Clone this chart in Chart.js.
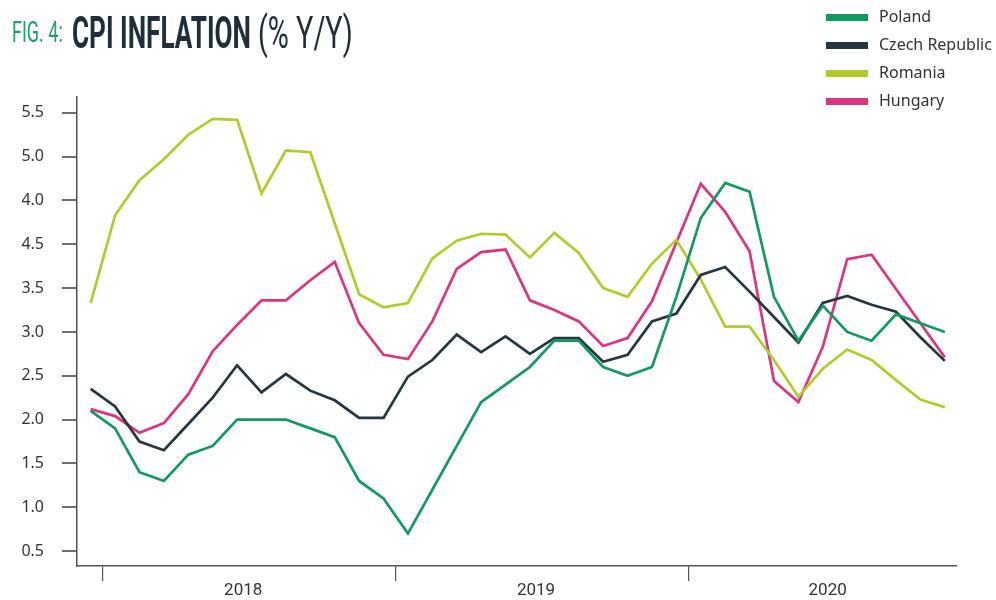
<!DOCTYPE html>
<html><head><meta charset="utf-8">
<script src="https://cdn.jsdelivr.net/npm/chart.js@4.4.1/dist/chart.umd.min.js"></script>
<style>
html,body{margin:0;padding:0;background:#fff;}
#wrap{position:relative;width:996px;height:600px;overflow:hidden;background:#fff;}
canvas{position:absolute;left:0;top:0;}
.tt{position:absolute;white-space:nowrap;font-family:'Liberation Sans Narrow','Roboto',sans-serif;color:#1f2e38;transform-origin:0 0;line-height:1;}
#tFig{left:12px;top:17px;color:#1f9e68;font-size:30px;font-weight:400;transform:scaleX(0.6);}
#tMain{left:72px;top:10px;font-size:45px;font-weight:700;transform:scaleX(0.58);}
#tUnit{left:258px;top:10px;font-size:45px;font-weight:400;transform:scaleX(0.64);}
#legend{position:absolute;left:826px;top:4px;font-family:'Noto Sans',sans-serif;font-size:16px;color:#333;}
#legend .row{position:relative;height:28px;}
#legend .sw{position:absolute;left:0;top:10px;width:42px;height:7px;}
#legend .tx{position:absolute;left:53px;top:1px;white-space:nowrap;}
</style></head>
<body>
<div id="wrap">
<canvas id="c" width="996" height="600"></canvas>
<span class="tt" id="tFig">FIG. 4:</span><span class="tt" id="tMain">CPI INFLATION</span><span class="tt" id="tUnit">(% Y/Y)</span>
<div id="legend"></div>
</div>
<script>
const months = ['2017-12','2018-01','2018-02','2018-03','2018-04','2018-05','2018-06','2018-07','2018-08','2018-09','2018-10','2018-11','2018-12',
'2019-01','2019-02','2019-03','2019-04','2019-05','2019-06','2019-07','2019-08','2019-09','2019-10','2019-11','2019-12',
'2020-01','2020-02','2020-03','2020-04','2020-05','2020-06','2020-07','2020-08','2020-09','2020-10','2020-11'];
const poland  = [2.1,1.9,1.4,1.3,1.6,1.7,2.0,2.0,2.0,1.9,1.8,1.3,1.1,0.7,1.2,1.7,2.2,2.4,2.6,2.9,2.9,2.6,2.5,2.6,3.4,4.3,4.7,4.6,3.4,2.9,3.3,3.0,2.9,3.2,3.1,3.0];
const czech   = [2.35,2.15,1.75,1.65,1.95,2.25,2.62,2.31,2.52,2.33,2.22,2.02,2.02,2.49,2.68,2.97,2.77,2.95,2.75,2.93,2.93,2.66,2.74,3.12,3.21,3.65,3.74,3.46,3.17,2.88,3.33,3.41,3.31,3.23,2.94,2.67];
const romania = [3.33,4.33,4.73,4.97,5.25,5.43,5.42,4.58,5.07,5.05,4.24,3.43,3.28,3.33,3.84,4.04,4.12,4.11,3.85,4.13,3.9,3.5,3.4,3.78,4.05,3.6,3.06,3.06,2.68,2.26,2.58,2.8,2.68,2.45,2.23,2.14];
const hungary = [2.12,2.04,1.85,1.96,2.29,2.78,3.08,3.36,3.36,3.59,3.8,3.1,2.74,2.69,3.12,3.72,3.91,3.94,3.36,3.25,3.12,2.84,2.93,3.35,4.02,4.69,4.37,3.92,2.44,2.2,2.83,3.83,3.88,3.49,3.1,2.71];
const seriesNames = ['Poland','Czech Republic','Romania','Hungary'];
const years = ['2018','2019','2020'];
const yTickLabels = ['0.5','1.0','1.5','2.0','2.5','3.0','3.5','4.5','4.0','5.0','5.5'];

const colors = ['#11995f','#263640','#b3cb2a','#dc3580'];
const yearBoundaries = [0.5, 12.5, 24.5];
const yearLabelPos = [6.25, 18.25, 30.2];

const toXY = arr => arr.map((v,i)=>({x:i,y:v}));
const allSeries = [poland, czech, romania, hungary];

const chart = new Chart(document.getElementById('c'), {
  type:'line',
  data:{
    labels: months,
    datasets: allSeries.map((s,k)=>({
      label: seriesNames[k], data: toXY(s), borderColor: colors[k], backgroundColor: colors[k],
      borderWidth: 2.7, pointRadius: 0, tension: 0, fill:false
    }))
  },
  options:{
    responsive:false, animation:false, devicePixelRatio:1,
    layout:{padding:{top:97,right:39,left:0,bottom:0}},
    plugins:{legend:{display:false}, tooltip:{enabled:false}},
    scales:{
      x:{
        type:'linear', min:-0.56, max:35.5,
        afterBuildTicks: s => { s.ticks = yearBoundaries.concat(yearLabelPos).sort((a,b)=>a-b).map(v=>({value:v})); },
        afterFit: s => { s.height = 34; },
        ticks:{autoSkip:false, maxRotation:0, padding:0, color:'#333',
          font:{family:"'Liberation Sans Narrow','Roboto',sans-serif", size:17},
          callback: v => { const j = yearLabelPos.indexOf(v); return j>=0 ? years[j] : ''; }},
        grid:{drawOnChartArea:false, drawTicks:true, tickLength:15, lineWidth:1.2,
          color: ctx => (ctx.tick && yearBoundaries.indexOf(ctx.tick.value)>=0) ? '#555' : 'rgba(0,0,0,0)'},
        border:{color:'#555', width:1.5}
      },
      y:{
        type:'linear', min:0.33, max:5.68,
        afterBuildTicks: s => { s.ticks = yTickLabels.map((_,i)=>({value:0.5+0.5*i})); },
        afterFit: s => { s.width = 77; },
        ticks:{padding:18, color:'#333', font:{family:"'Noto Sans',sans-serif", size:16},
          callback: (v,i) => yTickLabels[i]},
        grid:{drawOnChartArea:false, drawTicks:true, tickLength:15, lineWidth:2, color:'#6e6e6e'},
        border:{color:'#555', width:1.5}
      }
    }
  }
});

const lg = document.getElementById('legend');
chart.data.datasets.forEach(ds=>{
  const r = document.createElement('div'); r.className='row';
  const sw = document.createElement('div'); sw.className='sw'; sw.style.background = ds.borderColor;
  const tx = document.createElement('div'); tx.className='tx'; tx.textContent = ds.label;
  r.appendChild(sw); r.appendChild(tx); lg.appendChild(r);
});
</script>
</body></html>
